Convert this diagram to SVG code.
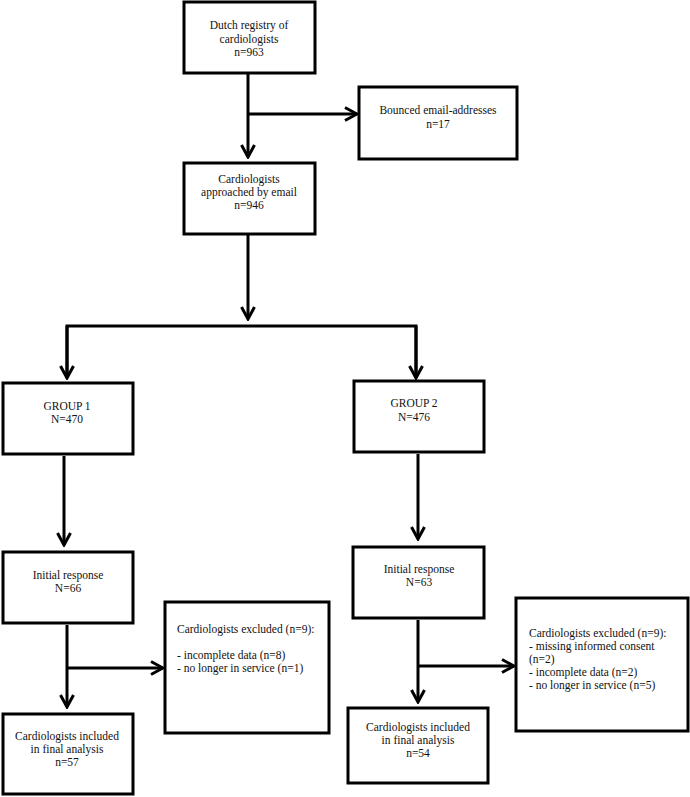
<svg xmlns="http://www.w3.org/2000/svg" width="690" height="797" viewBox="0 0 690 797" font-family="'Liberation Serif', 'DejaVu Serif', serif" font-size="11.5">
<style>
.box{fill:#fff;stroke:#000;stroke-width:3}
.c{stroke:#000;stroke-width:3;fill:none}
text{font-family:'Liberation Serif','DejaVu Serif',serif;font-size:11.5px;fill:#111}
.m{text-anchor:middle}
</style>
<defs>
<marker id="ah" viewBox="0 0 16 16" markerWidth="16" markerHeight="16" markerUnits="userSpaceOnUse" refX="14" refY="8" orient="auto">
<path d="M2,1.5 L14,8 L2,14.5" fill="none" stroke="#000" stroke-width="3"/>
</marker>
</defs>
<rect width="690" height="797" fill="#fff"/>
<g id="connectors">
<line class="c" x1="248" y1="74" x2="248" y2="157" marker-end="url(#ah)"/>
<line class="c" x1="248" y1="114" x2="357" y2="114" marker-end="url(#ah)"/>
<line class="c" x1="248" y1="235" x2="248" y2="319" marker-end="url(#ah)"/>
<polyline class="c" points="67,378 67,326 416,326 416,378"/>
<line class="c" x1="67" y1="326" x2="67" y2="378" marker-end="url(#ah)"/>
<line class="c" x1="416" y1="326" x2="416" y2="378" marker-end="url(#ah)"/>
<line class="c" x1="64" y1="456" x2="64" y2="545" marker-end="url(#ah)"/>
<line class="c" x1="67" y1="625" x2="67" y2="707" marker-end="url(#ah)"/>
<line class="c" x1="67" y1="668" x2="163" y2="668" marker-end="url(#ah)"/>
<line class="c" x1="418" y1="454" x2="418" y2="539" marker-end="url(#ah)"/>
<line class="c" x1="418" y1="620" x2="418" y2="702" marker-end="url(#ah)"/>
<line class="c" x1="418" y1="666" x2="514" y2="666" marker-end="url(#ah)"/>
</g>
<g id="registry">
<rect class="box" x="184" y="2" width="131" height="71"/>
<text class="m" x="249" y="29">Dutch registry of</text>
<text class="m" x="249" y="42.5">cardiologists</text>
<text class="m" x="249" y="56">n=963</text>
</g>
<g id="bounced">
<rect class="box" x="359" y="87" width="158" height="72"/>
<text class="m" x="438" y="114">Bounced email-addresses</text>
<text class="m" x="438" y="128">n=17</text>
</g>
<g id="approached">
<rect class="box" x="184" y="163" width="131" height="71"/>
<text class="m" x="249" y="183">Cardiologists</text>
<text class="m" x="249" y="196">approached by email</text>
<text class="m" x="249" y="209">n=946</text>
</g>
<g id="group1">
<rect class="box" x="3" y="383" width="130" height="71"/>
<text class="m" x="67" y="410">GROUP 1</text>
<text class="m" x="67" y="423">N=470</text>
</g>
<g id="group2">
<rect class="box" x="354" y="381" width="130" height="71"/>
<text class="m" x="414" y="407">GROUP 2</text>
<text class="m" x="414" y="421">N=476</text>
</g>
<g id="initial1">
<rect class="box" x="3" y="552" width="130" height="71"/>
<text class="m" x="68" y="579">Initial response</text>
<text class="m" x="68" y="592">N=66</text>
</g>
<g id="initial2">
<rect class="box" x="353" y="547" width="131" height="71"/>
<text class="m" x="419" y="573">Initial response</text>
<text class="m" x="419" y="586">N=63</text>
</g>
<g id="excluded1">
<rect class="box" x="165" y="602" width="164" height="131"/>
<text x="177" y="633">Cardiologists excluded (n=9):</text>
<text x="177" y="659">- incomplete data (n=8)</text>
<text x="177" y="672">- no longer in service (n=1)</text>
</g>
<g id="excluded2">
<rect class="box" x="516" y="598" width="172" height="133"/>
<text x="529" y="637">Cardiologists excluded (n=9):</text>
<text x="529" y="650">- missing informed consent</text>
<text x="529" y="663">(n=2)</text>
<text x="529" y="676">- incomplete data (n=2)</text>
<text x="529" y="689">- no longer in service (n=5)</text>
</g>
<g id="included1">
<rect class="box" x="3" y="714" width="130" height="80"/>
<text class="m" x="67" y="740">Cardiologists included</text>
<text class="m" x="67" y="753">in final analysis</text>
<text class="m" x="67" y="766">n=57</text>
</g>
<g id="included2">
<rect class="box" x="348" y="708" width="140" height="75"/>
<text class="m" x="418" y="731">Cardiologists included</text>
<text class="m" x="418" y="744">in final analysis</text>
<text class="m" x="418" y="757">n=54</text>
</g>
</svg>
